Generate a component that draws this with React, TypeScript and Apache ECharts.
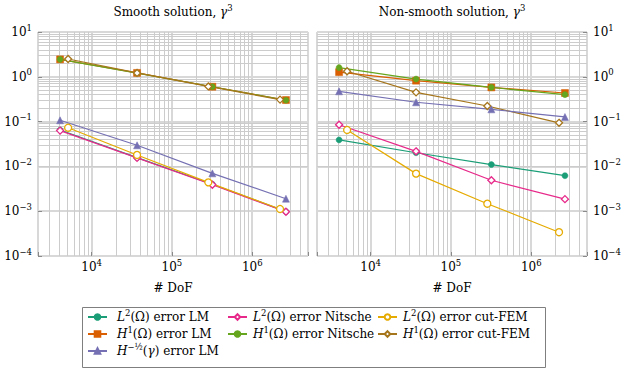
import React, { useEffect, useRef } from 'react';
import * as echarts from 'echarts';

const FONT = 'DejaVu Serif';

// Degrees of freedom
const dofLM = [4050, 36800, 319000, 2630000];
const dofCut = [5100, 36800, 284000, 2220000];

// Smooth solution
const smoothL2LM = [0.065, 0.0157, 0.004, 0.00098];
const smoothL2Nitsche = [0.063, 0.0155, 0.0039, 0.00097];
const smoothL2Cut = [0.073, 0.018, 0.0044, 0.00112];
const smoothH1LM = [2.45, 1.22, 0.6, 0.303];
const smoothH1Nitsche = [2.45, 1.21, 0.6, 0.3];
const smoothH1Cut = [2.5, 1.22, 0.61, 0.31];
const smoothHm12LM = [0.107, 0.0296, 0.007, 0.0019];

// Non-smooth solution
const roughL2LM = [0.039, 0.0202, 0.011, 0.0062];
const roughL2Nitsche = [0.085, 0.0217, 0.0049, 0.00186];
const roughL2Cut = [0.065, 0.0069, 0.00147, 0.00034];
const roughH1LM = [1.27, 0.82, 0.58, 0.435];
const roughH1Nitsche = [1.6, 0.89, 0.58, 0.4];
const roughH1Cut = [1.33, 0.45, 0.223, 0.094];
const roughHm12LM = [0.474, 0.27, 0.188, 0.127];

const X_MIN = 2150;
const X_MAX = 4950000;
const Y_MIN = 1e-4;
const Y_MAX = 10;

const titleTexts = ['Smooth solution, ', 'Non-smooth solution, '];
const xAxisName = '# DoF';

const N = {
  l2lm: 'L2(Ω) error LM',
  l2nit: 'L2(Ω) error Nitsche',
  l2cut: 'L2(Ω) error cut-FEM',
  h1lm: 'H1(Ω) error LM',
  h1nit: 'H1(Ω) error Nitsche',
  h1cut: 'H1(Ω) error cut-FEM',
  hmlm: 'H-1/2(γ) error LM',
};

const legendLabels: Record<string, string> = {
  [N.l2lm]: '{i|L}{s|2}{r|(Ω) error LM}',
  [N.l2nit]: '{i|L}{s|2}{r|(Ω) error Nitsche}',
  [N.l2cut]: '{i|L}{s|2}{r|(Ω) error cut-FEM}',
  [N.h1lm]: '{i|H}{s|1}{r|(Ω) error LM}',
  [N.h1nit]: '{i|H}{s|1}{r|(Ω) error Nitsche}',
  [N.h1cut]: '{i|H}{s|1}{r|(Ω) error cut-FEM}',
  [N.hmlm]: '{i|H}{s|−½}{r|(}{i|γ}{r|) error LM}',
};

const legendCols = [
  [N.l2lm, N.h1lm, N.hmlm],
  [N.l2nit, N.h1nit],
  [N.l2cut, N.h1cut],
];

const rich = {
  r: { fontFamily: FONT, fontSize: 12, fontWeight: 'normal', lineHeight: 18, color: '#000' },
  i: { fontFamily: FONT, fontSize: 12, fontWeight: 'normal', lineHeight: 18, fontStyle: 'italic', color: '#000' },
  s: { fontFamily: FONT, fontSize: 8.5, fontWeight: 'normal', lineHeight: 10, verticalAlign: 'top', color: '#000' },
  b: { fontFamily: FONT, fontSize: 12, fontWeight: 'normal', lineHeight: 18, color: '#000' },
};

const styles: Record<string, any> = {
  [N.l2lm]: { color: '#1b9e77', symbol: 'circle', size: 6, open: false },
  [N.l2nit]: { color: '#e7298a', symbol: 'diamond', size: 7, open: true },
  [N.l2cut]: { color: '#e6ab02', symbol: 'circle', size: 7, open: true },
  [N.h1lm]: { color: '#d95f02', symbol: 'rect', size: 7, open: false },
  [N.h1nit]: { color: '#66a61e', symbol: 'circle', size: 6, open: false },
  [N.h1cut]: { color: '#a6761d', symbol: 'diamond', size: 7, open: true },
  [N.hmlm]: { color: '#7570b3', symbol: 'triangle', size: 7, open: false },
};

const panels = [
  [
    [N.l2lm, dofLM, smoothL2LM],
    [N.l2nit, dofLM, smoothL2Nitsche],
    [N.l2cut, dofCut, smoothL2Cut],
    [N.h1lm, dofLM, smoothH1LM],
    [N.h1nit, dofLM, smoothH1Nitsche],
    [N.h1cut, dofCut, smoothH1Cut],
    [N.hmlm, dofLM, smoothHm12LM],
  ],
  [
    [N.l2lm, dofLM, roughL2LM],
    [N.l2nit, dofLM, roughL2Nitsche],
    [N.l2cut, dofCut, roughL2Cut],
    [N.h1lm, dofLM, roughH1LM],
    [N.h1nit, dofLM, roughH1Nitsche],
    [N.h1cut, dofCut, roughH1Cut],
    [N.hmlm, dofLM, roughHm12LM],
  ],
] as [string, number[], number[]][][];

function powLabel(v: number) {
  const l = Math.log10(v);
  const e = Math.round(l);
  if (Math.abs(l - e) > 1e-3) return '';
  const sup = e < 0 ? '−' + -e : String(e);
  return `{b|10}{s|${sup}}`;
}

function minorValues(lo: number, hi: number) {
  const out: number[] = [];
  for (let e = -5; e <= 7; e++) {
    for (let k = 2; k <= 9; k++) {
      const v = k * Math.pow(10, e);
      if (v > lo && v < hi) out.push(v);
    }
  }
  return out;
}

const GRID_LEFT = [38, 317];
const GRID_W = 270;

export default function App() {
  const ref = useRef<HTMLDivElement>(null);
  useEffect(() => {
    if (!ref.current) return;
    const chart = echarts.init(ref.current, null, { renderer: 'svg' });
    const minorX = minorValues(X_MIN, X_MAX);
    const minorY = minorValues(Y_MIN, Y_MAX);
    const series: any[] = [];
    [0, 1].forEach((g) => {
      series.push({
        type: 'line',
        name: 'grid' + g,
        xAxisIndex: g,
        yAxisIndex: g,
        data: [],
        silent: true,
        z: 1,
        markLine: {
          silent: true,
          z: 1,
          zlevel: 0,
          symbol: ['none', 'none'],
          label: { show: false },
          emphasis: { disabled: true },
          lineStyle: { color: '#cccccc', width: 1, type: 'solid' },
          data: [
            ...minorX.map((v) => ({ xAxis: v })),
            ...minorY.map((v) => ({ yAxis: v })),
          ],
        },
      });
      panels[g].forEach(([name, xs, ys]) => {
        const st = styles[name];
        series.push({
          type: 'line',
          name,
          xAxisIndex: g,
          yAxisIndex: g,
          z: 6,
          data: xs.map((x, i) => [x, ys[i]]),
          symbol: st.symbol,
          symbolSize: st.size,
          showSymbol: true,
          lineStyle: { color: st.color, width: 1.2 },
          itemStyle: st.open
            ? { color: '#ffffff', borderColor: st.color, borderWidth: 1.3 }
            : { color: st.color, borderColor: st.color, borderWidth: 0.5 },
          emphasis: { disabled: true },
        });
      });
    });

    const option: any = {
      animation: false,
      backgroundColor: '#ffffff',
      textStyle: { fontFamily: FONT, fontWeight: 'normal', color: '#000' },
      title: [0, 1].map((g) => ({
        text: `{r|${titleTexts[g]}}{i|γ}{s|3}`,
        left: GRID_LEFT[g] + GRID_W / 2,
        top: 3,
        textAlign: 'center',
        padding: 0,
        textStyle: { rich, fontFamily: FONT, fontWeight: 'normal', fontSize: 12, color: '#000' },
      })),
      grid: [0, 1].map((g) => ({
        left: GRID_LEFT[g],
        top: 32,
        width: GRID_W,
        height: 224,
        show: true,
        borderColor: '#8a8a8a',
        borderWidth: 1,
        backgroundColor: 'transparent',
        outerBoundsMode: 'none',
        containLabel: false,
        z: 0,
      })),
      xAxis: [0, 1].map((g) => ({
        type: 'log',
        logBase: 10,
        gridIndex: g,
        min: X_MIN,
        max: X_MAX,
        name: `{r|${xAxisName}}`,
        nameLocation: 'middle',
        nameGap: 23,
        nameTextStyle: { rich, fontFamily: FONT, fontSize: 12, fontWeight: 'normal', color: '#000' },
        axisLine: { show: false },
        axisTick: { show: true, inside: true, length: 4, lineStyle: { color: '#8a8a8a' } },
        axisLabel: { formatter: powLabel, margin: 2, rich, color: '#000', fontFamily: FONT, hideOverlap: false },
        splitLine: { show: true, lineStyle: { color: '#d8d8d8', width: 2 } },
        minorTick: { show: false },
        minorSplitLine: { show: false },
      })),
      yAxis: [0, 1].map((g) => ({
        type: 'log',
        logBase: 10,
        gridIndex: g,
        min: Y_MIN,
        max: Y_MAX,
        position: g === 0 ? 'left' : 'right',
        axisLine: { show: false },
        axisTick: { show: true, inside: true, length: 4, lineStyle: { color: '#8a8a8a' } },
        axisLabel: { formatter: powLabel, margin: 6, rich, color: '#000', fontFamily: FONT, hideOverlap: false },
        splitLine: { show: true, lineStyle: { color: '#d8d8d8', width: 2 } },
        minorTick: { show: false },
        minorSplitLine: { show: false },
      })),
      legend: legendCols.map((names, c) => ({
        orient: 'vertical',
        left: [87, 227, 377][c],
        top: 308,
        padding: 0,
        itemGap: 2,
        itemWidth: 19,
        itemHeight: 7,
        selectedMode: false,
        data: names,
        formatter: (name: string) => legendLabels[name],
        textStyle: { rich, fontFamily: FONT, padding: c === 0 ? [0, 0, 0, 5] : [0, 0, 0, 1] },
      })),
      graphic: [
        {
          type: 'rect',
          shape: { x: 82.5, y: 307.5, width: 463, height: 60 },
          style: { fill: 'none', stroke: '#7f7f7f', lineWidth: 1 },
          silent: true,
        },
      ],
      series,
    };
    chart.setOption(option);
    return () => chart.dispose();
  }, []);
  return (
    <div
      ref={ref}
      style={{ position: 'absolute', left: 0, top: 0, width: 626, height: 370 }}
    />
  );
}
